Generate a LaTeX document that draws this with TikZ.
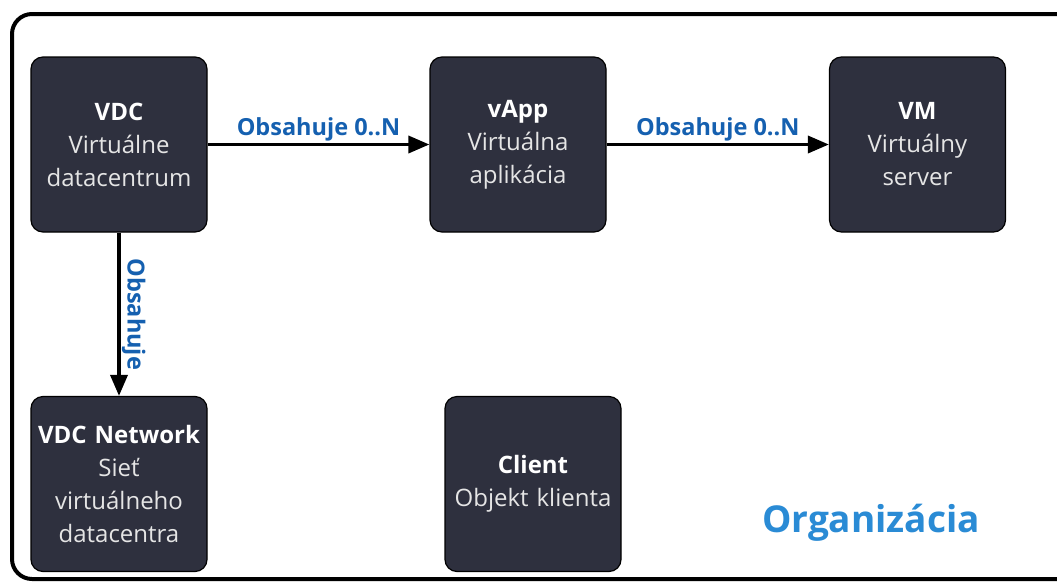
\documentclass[tikz,border=0pt]{standalone}
\usepackage{fontspec}
\setmainfont{Open Sans}
\usetikzlibrary{arrows.meta}
\definecolor{boxfill}{HTML}{2E303E}
\definecolor{relblue}{HTML}{1560B0}
\definecolor{orgblue}{HTML}{2A8BD5}
\tikzset{
  entity/.style={draw=black,line width=1.2pt,fill=boxfill,rounded corners=12pt,
    minimum width=176pt,minimum height=175pt,text width=174pt,inner sep=1pt,align=center,
    text=white!90!black,font=\fontsize{24}{33}\selectfont},
  rel/.style={->,line width=3.5pt},
  rellabel/.style={text=relblue,font=\fontsize{23.5}{26}\selectfont\bfseries}
}
\begin{document}
\begin{tikzpicture}[x=1pt,y=-1pt,>={Triangle[length=21pt,width=17pt]},line join=round]
  \useasboundingbox (0,0) rectangle (1057,587);
  \clip (0,0) rectangle (1057,587);
  \fill[white] (0,0) rectangle (1057,587);
  % organizacia
  \draw[line width=4pt,rounded corners=20pt] (12,14) rectangle (1090,579);
  \node[text=orgblue,font=\fontsize{37}{40}\selectfont\bfseries] (org) at (871,523) {Organizácia};
  % entity
  \node[entity] (vdc) at (119,144.5) {\textbf{\color{white}VDC}\\Virtuálne\\datacentrum};
  \node[entity] (vapp) at (518,144.5) {\textbf{\color{white}vApp}\\Virtuálna\\aplikácia};
  \node[entity] (vm) at (917.5,144.5) {\textbf{\color{white}VM}\\Virtuálny\\server};
  \node[entity] (net) at (119,484) {\textbf{\color{white}VDC Network}\\Sieť\\virtuálneho\\datacentra};
  \node[entity] (client) at (533,484) {\textbf{\color{white}Client}\\Objekt klienta};
  % vztahy
  \draw[rel] (vdc.east) -- (vapp.west) node[midway,above=-2pt,rellabel] {Obsahuje 0..N};
  \draw[rel] (vapp.east) -- (vm.west) node[midway,above=-2pt,rellabel] {Obsahuje 0..N};
  \draw[rel] (vdc.south) -- (net.north) node[midway,rotate=-90,anchor=south,yshift=-2pt,rellabel] {Obsahuje};
\end{tikzpicture}
\end{document}
